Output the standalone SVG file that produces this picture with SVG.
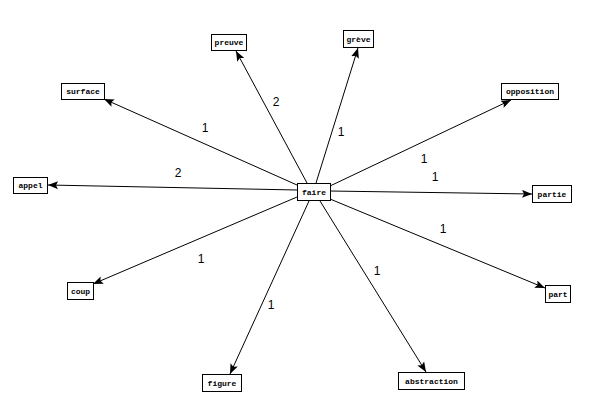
<svg xmlns="http://www.w3.org/2000/svg" width="598" height="414" viewBox="0 0 598 414">
<style>
.box{fill:#fff;stroke:#000;stroke-width:1}
.nt{font-family:"Liberation Mono","DejaVu Sans Mono",monospace;font-weight:bold;font-size:8px;text-anchor:middle;fill:#000}
.el{font-family:"Liberation Sans",Arial,sans-serif;font-size:12px;fill:#000;text-anchor:middle}
.edge{stroke:#000;stroke-width:1;fill:none;marker-end:url(#ah)}
</style>
<defs>
<marker id="ah" viewBox="0 0 10 8" refX="10" refY="4" markerWidth="10" markerHeight="8" markerUnits="userSpaceOnUse" orient="auto">
<path d="M0,0 L10,4 L0,8 L2,4 Z" fill="#000"/>
</marker>
</defs>
<rect width="598" height="414" fill="#fff"/>
<g id="connectors">
<line class="edge" x1="307" y1="183" x2="236" y2="51"/>
<line class="edge" x1="316" y1="183" x2="358" y2="48"/>
<line class="edge" x1="297" y1="185" x2="104" y2="99"/>
<line class="edge" x1="330" y1="186" x2="511" y2="100"/>
<line class="edge" x1="297" y1="190" x2="48" y2="185"/>
<line class="edge" x1="330" y1="191" x2="532" y2="194"/>
<line class="edge" x1="297" y1="197" x2="93" y2="284"/>
<line class="edge" x1="330" y1="199" x2="545" y2="288"/>
<line class="edge" x1="309" y1="201" x2="230" y2="374"/>
<line class="edge" x1="320" y1="201" x2="426" y2="372"/>
<text class="el" x="276" y="106">2</text>
<text class="el" x="205" y="132">1</text>
<text class="el" x="341" y="136">1</text>
<text class="el" x="178" y="177">2</text>
<text class="el" x="424" y="163">1</text>
<text class="el" x="435" y="181">1</text>
<text class="el" x="443" y="233">1</text>
<text class="el" x="201" y="263">1</text>
<text class="el" x="377" y="275">1</text>
<text class="el" x="271" y="309">1</text>
</g>
<g id="faire"><rect class="box" x="297.5" y="183.5" width="33" height="17"/><text class="nt" x="314" y="195">faire</text></g>
<g id="preuve"><rect class="box" x="211.5" y="34.5" width="35" height="16"/><text class="nt" x="229" y="45">preuve</text></g>
<g id="greve"><rect class="box" x="343.5" y="30.5" width="30" height="17"/><text class="nt" x="358.5" y="42">grève</text></g>
<g id="surface"><rect class="box" x="61.5" y="83.5" width="43" height="16"/><text class="nt" x="83" y="94">surface</text></g>
<g id="opposition"><rect class="box" x="501.5" y="83.5" width="57" height="16"/><text class="nt" x="530" y="94">opposition</text></g>
<g id="appel"><rect class="box" x="13.5" y="177.5" width="34" height="16"/><text class="nt" x="30.5" y="188">appel</text></g>
<g id="partie"><rect class="box" x="532.5" y="185.5" width="39" height="17"/><text class="nt" x="552" y="197">partie</text></g>
<g id="coup"><rect class="box" x="67.5" y="282.5" width="26" height="17"/><text class="nt" x="80.5" y="294">coup</text></g>
<g id="part"><rect class="box" x="545.5" y="285.5" width="25" height="17"/><text class="nt" x="558" y="297">part</text></g>
<g id="figure"><rect class="box" x="202.5" y="374.5" width="39" height="17"/><text class="nt" x="222" y="386">figure</text></g>
<g id="abstraction"><rect class="box" x="398.5" y="372.5" width="66" height="17"/><text class="nt" x="431.5" y="384">abstraction</text></g>
</svg>
